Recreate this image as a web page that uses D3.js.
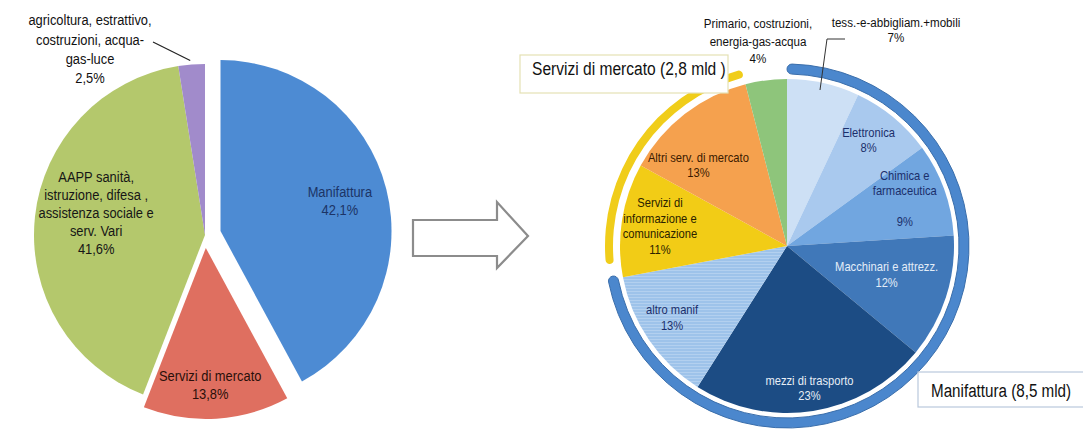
<!DOCTYPE html>
<html><head><meta charset="utf-8">
<script src="https://cdn.jsdelivr.net/npm/d3@7"></script>
<style>
html,body{margin:0;padding:0;background:#fff;}
svg{display:block;}
text{font-family:"Liberation Sans",Arial,sans-serif;}
</style></head>
<body>
<svg id="chart" width="1083" height="430"></svg>
<script>
// ---- data ----
const leftCategories = ["Manifattura", "Servizi di mercato", "AAPP, sanità, istruzione, difesa, assistenza sociale e serv. Vari", "agricoltura, estrattivo, costruzioni, acqua-gas-luce"];
const leftValues = [42.1, 13.8, 41.6, 2.5];
const leftLabels = [
  ["Manifattura", "42,1%"],
  ["Servizi di mercato", "13,8%"],
  ["AAPP  sanità,", "istruzione, difesa ,", "assistenza sociale e", "serv. Vari", "41,6%"],
  ["agricoltura, estrattivo,", "costruzioni, acqua-", "gas-luce", "2,5%"]
];
const rightCategories = ["tess.-abbigliam.+mobili", "Elettronica", "Chimica e farmaceutica", "Macchinari e attrezz.", "mezzi di trasporto", "altro manif", "Servizi di informazione e comunicazione", "Altri serv. di mercato", "Primario, costruzioni, energia-gas-acqua"];
const rightValues = [7, 8, 9, 12, 23, 13, 11, 13, 4];
const rightLabels = [
  ["tess.-e-abbigliam.+mobili", "7%"],
  ["Elettronica", "8%"],
  ["Chimica e", "farmaceutica", "", "9%"],
  ["Macchinari e attrezz.", "12%"],
  ["mezzi di trasporto", "23%"],
  ["altro manif", "13%"],
  ["Servizi di", "informazione e", "comunicazione", "11%"],
  ["Altri serv. di mercato", "13%"],
  ["Primario, costruzioni,", "energia-gas-acqua", "4%"]
];
const groupLabels = ["Servizi di mercato (2,8 mld )", "Manifattura (8,5 mld)"];

// ---- styles / layout ----
const leftStyle = [
  {fill:"#4d8bd3", text:"#1c3466", explode:16, lab:[1.0,0.72]},
  {fill:"#df6f60", text:"#2a0f0a", explode:13, lab:[1.01,0.80]},
  {fill:"#b4c86c", text:"#161616", explode:0, lab:[1.02,0.65]},
  {fill:"#a18bcb", text:"#111111", explode:0, lab:null}
];
const rightStyle = [
  {fill:"#cde0f5", text:"#1b2f6b", lab:null},
  {fill:"#a9c9ee", text:"#1b2f6b", lab:[0.95,0.80]},
  {fill:"#71a6e0", text:"#1b2f6b", lab:[0.97,0.76]},
  {fill:"#4078b9", text:"#e3edf8", lab:[0.98,0.62]},
  {fill:"#1c4c84", text:"#e8eef6", lab:[1.0,0.86]},
  {fill:"#9ec3ea", text:"#1b2f6b", lab:[1.01,0.81], pattern:true},
  {fill:"#f2cc16", text:"#2a2200", lab:[1.0,0.77]},
  {fill:"#f5a14e", text:"#3a1a00", lab:[0.97,0.72]},
  {fill:"#8ec57b", text:"#111111", lab:null}
];
const NARROW = 0.86;

const svg = d3.select("#chart");
const defs = svg.append("defs");
const pat = defs.append("pattern").attr("id","stripes").attr("patternUnits","userSpaceOnUse")
  .attr("width",4).attr("height",3);
pat.append("rect").attr("width",4).attr("height",3).attr("fill","#9ec3ea");
pat.append("rect").attr("width",4).attr("height",1).attr("fill","#b3d0ef");

function addLines(g, lines, x, y, lh, fs, color, anchor, sx){
  const gg = g.append("g").attr("transform",`translate(${x},${y}) scale(${sx||NARROW},1)`);
  const t = gg.append("text").attr("x",0).attr("y",0).attr("text-anchor",anchor||"middle")
    .attr("font-size",fs).attr("fill",color);
  const n = lines.length;
  lines.forEach((l,i)=>{
    t.append("tspan").attr("x",0).attr("y", (i-(n-1)/2)*lh).attr("dy","0.35em").text(l);
  });
  return t;
}

// ---- left pie ----
const L = {cx:205, cy:235, r:171};
const pieL = d3.pie().sort(null).value(d=>d)(leftValues);
const arcL = d3.arc().innerRadius(0).outerRadius(L.r);
const gL = svg.append("g").attr("transform",`translate(${L.cx},${L.cy})`);
pieL.forEach((d,i)=>{
  const mid = (d.startAngle+d.endAngle)/2;
  const ex = leftStyle[i].explode;
  const ox = Math.sin(mid)*ex, oy = -Math.cos(mid)*ex;
  const g = gL.append("g").attr("transform",`translate(${ox},${oy})`);
  g.append("path").attr("d",arcL(d)).attr("fill",leftStyle[i].fill);
  const s = leftStyle[i].lab;
  if(s){
    const a = mid*s[0], rr = L.r*s[1];
    const lx = ox + Math.sin(a)*rr, ly = oy - Math.cos(a)*rr;
    addLines(gL, leftLabels[i], lx, ly, i===2?18:18, 15, leftStyle[i].text);
  }
});
// outside label for small slice
{
  const d = pieL[3];
  const mid = (d.startAngle+d.endAngle)/2;
  const px = Math.sin(mid)*(L.r-8), py = -Math.cos(mid)*(L.r-8);
  addLines(gL, leftLabels[3], -115, -186, 19.5, 15, leftStyle[3].text);
  gL.append("path").attr("d",`M${-52},${-193} L${px-2},${py-12}`).attr("stroke","#222").attr("stroke-width",1.2).attr("fill","none");
}

// ---- arrow ----
svg.append("path")
  .attr("d","M413,220 L497,220 L497,202 L528,236 L497,268 L497,256 L413,256 Z")
  .attr("fill","#fff").attr("stroke","#8c8c8c").attr("stroke-width",2.2).attr("stroke-linejoin","miter");

// ---- right pie ----
const R = {cx:787, cy:246, r:167};
const pieR = d3.pie().sort(null).value(d=>d)(rightValues);
const arcR = d3.arc().innerRadius(0).outerRadius(R.r);
const gR = svg.append("g").attr("transform",`translate(${R.cx},${R.cy})`);
gR.selectAll("path.slice").data(pieR).join("path").attr("class","slice")
  .attr("d",arcR)
  .attr("fill",(d,i)=>rightStyle[i].pattern?"url(#stripes)":rightStyle[i].fill);

// group arcs
const deg = Math.PI/180;
const manArc = d3.arc().innerRadius(172).outerRadius(182).cornerRadius(5);
const serArc = d3.arc().innerRadius(174).outerRadius(182).cornerRadius(4);
const manStart = pieR[0].startAngle, manEnd = pieR[5].endAngle;
const serStart = pieR[6].startAngle, serEnd = pieR[7].endAngle;

// boxes
svg.append("rect").attr("x",520).attr("y",55).attr("width",208).attr("height",38)
  .attr("fill","#fff").attr("stroke","#e4e1b4").attr("stroke-width",1.2);
addLines(svg, [groupLabels[0]], 532, 68, 18, 19, "#111", "start", 0.82);
svg.append("rect").attr("x",918).attr("y",372).attr("width",180).attr("height",35)
  .attr("fill","#fff").attr("stroke","#b9c8dc").attr("stroke-width",1.2);
addLines(svg, [groupLabels[1]], 931, 390, 18, 19, "#111", "start", 0.8);

gR.append("path").attr("d",manArc({startAngle:manStart, endAngle:manEnd+1*deg}))
  .attr("fill","#4b87cd").attr("stroke","#3a6eab").attr("stroke-width",1);
gR.append("path").attr("d",serArc({startAngle:serStart+5*deg, endAngle:serEnd}))
  .attr("fill","#f0cd1a");

// labels inside
pieR.forEach((d,i)=>{
  const s = rightStyle[i].lab;
  if(!s) return;
  const mid = (d.startAngle+d.endAngle)/2;
  const a = mid*s[0], rr = R.r*s[1];
  addLines(gR, rightLabels[i], Math.sin(a)*rr, -Math.cos(a)*rr, 15.5, 13, rightStyle[i].text);
});
// outside labels
addLines(svg, rightLabels[8], 758, 41, 17.5, 13.5, "#111");
addLines(svg, rightLabels[0], 896, 30, 15, 13.5, "#111");
svg.append("path").attr("d","M845,39 L827,39 L820,90").attr("stroke","#333").attr("stroke-width",1).attr("fill","none");
</script>
</body></html>
